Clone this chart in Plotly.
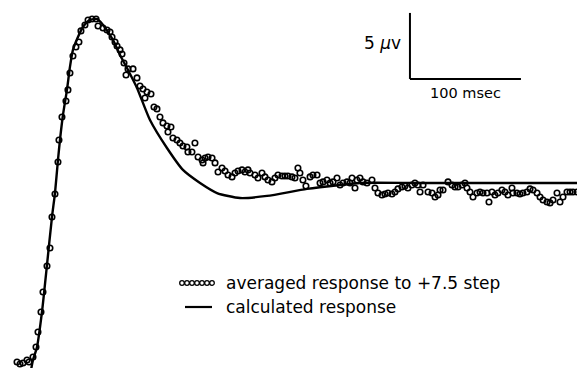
import plotly.graph_objects as go

# ---- averaged response (open circles): time in msec, amplitude in microvolts
avg_t = [-11.7, -9.0, -6.3, -2.7, -0.9, 2.7, 5.4, 7.2, 9.9, 11.7, 15.3, 18.0, 19.8, 22.5, 25.2, 26.1,
         28.8, 32.4, 34.2, 36.0, 38.7, 41.4, 44.1, 45.9, 49.5, 52.3, 55.9, 59.5, 61.3, 65.8, 69.4, 72.1,
         73.9, 76.6, 78.4, 81.1, 82.9, 84.7, 86.5, 88.3, 92.8, 96.4, 99.1, 101.8, 103.6, 105.4, 109.0,
         111.7, 114.4, 117.1, 119.8, 123.4, 124.3, 127.0, 128.8, 132.4, 135.1, 137.8, 141.4, 142.3,
         145.9, 148.6, 151.4, 155.0, 155.9, 157.7, 160.4, 164.0, 166.7, 169.4, 173.0, 175.7, 178.4,
         182.0, 184.7, 187.4, 191.0, 193.7, 196.4, 198.2, 202.7, 205.4, 209.0, 211.7, 214.4, 218.0,
         220.7, 223.4, 227.0, 229.7, 232.4, 236.0, 238.7, 241.4, 243.2, 245.9, 248.6, 252.3, 254.9,
         258.6, 261.3, 264.0, 267.6, 270.3, 273.0, 276.6, 279.3, 282.0, 285.6, 288.3, 290.1, 292.8,
         294.6, 297.3, 300.0, 303.6, 308.1, 310.8, 313.5, 317.1, 319.8, 322.5, 326.1, 328.8, 331.5,
         335.1, 337.8, 340.5, 344.1, 346.8, 349.5, 351.4, 354.1, 358.6, 362.2, 364.9, 367.6, 369.4,
         372.1, 376.6, 380.2, 382.9, 385.6, 389.2, 391.9, 393.7, 396.4, 399.1, 402.7, 405.4, 408.1,
         411.7, 413.5, 416.2, 418.9, 421.6, 425.2, 427.9, 430.6, 434.2, 435.1, 438.7, 441.4, 444.1,
         447.7, 450.5, 453.2, 456.8, 459.5, 462.2, 465.8, 468.5, 471.2, 474.8, 477.5, 480.2, 483.8,
         486.5, 489.2, 492.8]
avg_v = [0.0, -0.15, -0.08, 0.15, 0.0, 0.38, 1.14, 2.27, 3.79, 5.30, 7.27, 8.64, 10.98, 12.73, 15.15, 16.82,
         18.56, 19.77, 20.61, 21.89, 23.18, 23.86, 24.24, 25.08, 25.53, 25.91, 25.98, 25.98, 25.45, 25.30, 25.15, 25.0,
         24.62, 24.24, 23.94, 23.64, 23.33, 22.65, 21.74, 22.20, 22.20, 21.52, 20.91, 20.68, 20.0, 20.45, 20.30,
         19.32, 19.17, 18.56, 18.11, 17.88, 17.42, 17.80, 16.97, 16.82, 16.59, 16.36, 16.29, 15.91,
         15.91, 16.59, 15.53, 15.30, 15.08, 15.45, 15.53, 15.45, 15.08, 14.39, 14.70, 14.47, 14.17,
         14.02, 14.32, 14.47, 14.55, 14.39, 14.55, 14.32, 14.17, 13.94, 14.32, 14.02, 13.79, 13.64,
         13.94, 14.17, 14.09, 14.09, 14.09, 14.02, 13.94, 14.70, 14.32, 13.79, 13.33, 14.02, 14.17,
         14.17, 13.56, 13.64, 13.79, 13.56, 13.64, 13.94, 13.41, 13.56, 13.64, 13.56, 13.94, 13.18,
         13.79, 13.94, 13.64, 13.56, 13.79, 13.18, 12.80, 12.65, 12.73, 12.80, 12.73, 12.88, 13.11,
         13.26, 13.33, 13.18, 13.41, 13.56, 13.41, 12.88, 13.41, 12.88, 12.80, 12.50, 12.65, 13.03,
         13.03, 13.64, 13.41, 13.26, 13.26, 13.41, 13.56, 13.18, 12.88, 12.50, 12.80, 12.88, 12.80,
         12.80, 12.12, 12.88, 12.65, 12.80, 13.03, 12.88, 12.65, 13.18, 12.80, 12.80, 12.73, 12.80,
         12.88, 13.11, 13.03, 12.80, 12.50, 12.27, 12.12, 12.05, 12.27, 12.80, 12.12, 12.50, 12.88,
         12.88, 12.88, 12.88]

# ---- calculated response (solid line)
calc_t = [0.9, 2.7, 6.3, 10.8, 15.3, 19.8, 22.5, 25.2, 27.0, 29.7, 33.3, 36.0, 38.7, 43.2, 47.7, 54.1,
          60.4, 65.8, 74.8, 81.1, 88.3, 96.4, 108.1, 123.4, 137.8, 153.2, 168.5, 189.2, 213.5, 249.5,
          279.3, 297.3, 350.0, 420.0, 492.8]
calc_v = [-0.61, 0.15, 1.14, 3.79, 7.35, 10.98, 12.80, 15.30, 16.82, 18.71, 20.61, 22.35, 23.64, 24.62,
          25.38, 25.91, 25.98, 25.53, 24.39, 23.26, 22.12, 20.76, 18.33, 16.21, 14.55, 13.56, 12.80,
          12.42, 12.58, 13.11, 13.41, 13.56, 13.56, 13.56, 13.56]

# ---- calibration bar
bar_t0, bar_v0 = 342.3, 21.44
bar_dt, bar_dv = 100, 5
bar_v_label = "5 <i>μ</i>v"
bar_t_label = "100 msec"

legend_labels = ["averaged response to +7.5 step", "calculated response"]

W, H = 577, 368
FONT = "DejaVu Sans"

fig = go.Figure()
fig.add_trace(go.Scatter(x=calc_t, y=calc_v, mode="lines", line=dict(color="black", width=2.4, shape="spline", smoothing=0.6),
                         showlegend=False, cliponaxis=True))
fig.add_trace(go.Scatter(x=avg_t, y=avg_v, mode="markers",
                         marker=dict(symbol="circle-open", size=5.5, color="black", line=dict(width=1.6)),
                         showlegend=False, cliponaxis=False))

# calibration bar
fig.add_shape(type="line", x0=bar_t0, x1=bar_t0, y0=bar_v0, y1=bar_v0 + bar_dv, line=dict(color="black", width=2))
fig.add_shape(type="line", x0=bar_t0, x1=bar_t0 + bar_dt, y0=bar_v0, y1=bar_v0, line=dict(color="black", width=2))
fig.add_annotation(x=bar_t0, y=bar_v0 + bar_dv * 0.55, text=bar_v_label, showarrow=False, xanchor="right", xshift=-7,
                   font=dict(family=FONT, size=17, color="black"))
fig.add_annotation(x=bar_t0 + bar_dt / 2, y=bar_v0, text=bar_t_label, showarrow=False, yanchor="top", yshift=-4,
                   font=dict(family=FONT, size=14.5, color="black"))

# hand-drawn style legend
lx0, lx1 = 182 / W, 212 / W
ly1, ly2 = 1 - 283 / H, 1 - 307 / H
for i in range(7):
    cx = (182 + i * 5) / W
    fig.add_shape(type="circle", xref="paper", yref="paper", xsizemode="pixel", ysizemode="pixel",
                  xanchor=cx, yanchor=ly1, x0=-2.3, x1=2.3, y0=-2.3, y1=2.3,
                  line=dict(color="black", width=1.3))
fig.add_shape(type="line", xref="paper", yref="paper", x0=185 / W, x1=lx1, y0=ly2, y1=ly2,
              line=dict(color="black", width=2.2))
for lab, yy in zip(legend_labels, [ly1, ly2]):
    fig.add_annotation(x=224 / W, y=yy, xref="paper", yref="paper", text=lab, showarrow=False,
                       xanchor="left", yanchor="middle", font=dict(family=FONT, size=17, color="black"))

fig.update_xaxes(range=[-27.03, 492.8], visible=False, showgrid=False, zeroline=False)
fig.update_yaxes(range=[-0.4545, 27.42], visible=False, showgrid=False, zeroline=False)
fig.update_layout(width=W, height=H, margin=dict(l=0, r=0, t=0, b=0), paper_bgcolor="white",
                  plot_bgcolor="white", showlegend=False)
fig.write_html("out.html")
